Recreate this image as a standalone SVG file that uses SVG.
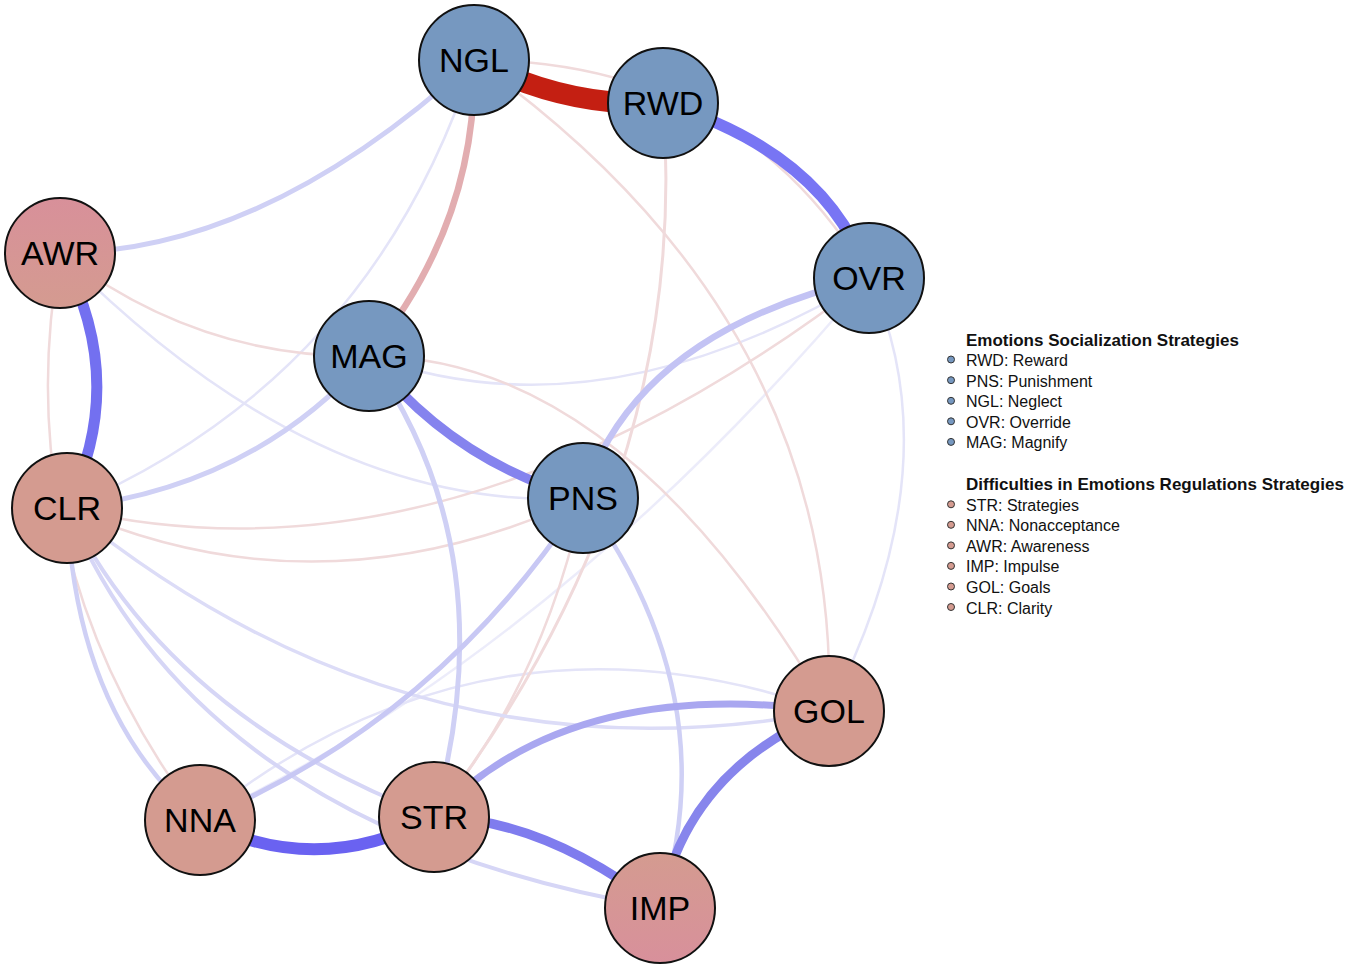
<svg xmlns="http://www.w3.org/2000/svg" width="1350" height="967" viewBox="0 0 1350 967">
<defs>
<style>
.e{fill:none;stroke-linecap:butt}
.fp{stroke:#f0dadb;stroke-width:2.5}
.fb{stroke:#e4e4f8;stroke-width:2.5}
.lb{stroke:#cfd0f5}
.n circle{stroke:#111;stroke-width:2}
.bl{fill:#7698c0}
.pk{fill:#d49b90}
.n text{font-family:"Liberation Sans",Arial,sans-serif;font-size:34px;fill:#000;text-anchor:middle}
.lg{font-family:"Liberation Sans",Arial,sans-serif;font-size:16px;fill:#111}
.lt{font-family:"Liberation Sans",Arial,sans-serif;font-size:17px;font-weight:bold;fill:#111}
.db{fill:#7698c0;stroke:#333;stroke-width:1}
.dp{fill:#d49b90;stroke:#333;stroke-width:1}
</style>
<linearGradient id="gAWR" x1="0" y1="0" x2="0" y2="1"><stop offset="0" stop-color="#d8909a"/><stop offset="1" stop-color="#d49b90"/></linearGradient>
<linearGradient id="gIMP" x1="0" y1="0" x2="0" y2="1"><stop offset="0" stop-color="#d49b90"/><stop offset="1" stop-color="#d8909b"/></linearGradient>
</defs>
<rect width="1350" height="967" fill="#fff"/>
<g id="edges">
<path class="e fb" d="M869,278 Q955,465 829,711"/>
<path class="e fb" d="M869,278 Q555,651 200,820" stroke-opacity="0.7"/>
<path class="e fb" d="M200,820 Q485,590 829,711"/>
<path class="e fb" d="M369,356 Q600,440 869,278"/>
<path class="e fb" d="M60,253 Q318,514 583,498"/>
<path class="e fb" d="M67,508 Q370,380 474,60"/>
<path class="e fp" d="M474,60 Q740,60 869,278"/>
<path class="e fp" d="M474,60 Q840,320 829,711"/>
<path class="e fp" d="M369,356 Q621,356 829,711"/>
<path class="e fp" d="M60,253 Q200,360 369,356"/>
<path class="e fp" d="M67,508 Q450,600 869,278"/>
<path class="e fp" d="M67,508 Q320,620 583,498"/>
<path class="e fp" d="M60,253 Q5,560 200,820"/>
<path class="e fp" d="M663,103 Q692,480 434,817" style="stroke-width:3"/>
<path class="e fp" d="M583,498 Q545,680 434,817"/>
<path class="e fb" d="M67,508 Q412,790 829,711" style="stroke:#dcdcf7;stroke-width:3.5"/>
<path class="e lb" d="M67,508 Q76,716 200,820" style="stroke-width:4.5"/>
<path class="e lb" d="M67,508 Q170,717 434,817" style="stroke-width:4;stroke:#d6d6f6"/>
<path class="e lb" d="M67,508 Q200,830 660,908" style="stroke-width:4;stroke:#d6d6f6"/>
<path class="e lb" d="M583,498 Q728,697 660,908" style="stroke-width:4.5"/>
<path class="e lb" d="M369,356 Q508,553 434,817" style="stroke-width:5"/>
<path class="e lb" d="M474,60 Q263,253 60,253" style="stroke-width:5"/>
<path class="e lb" d="M369,356 Q252,488 67,508" style="stroke-width:5"/>
<path class="e lb" d="M583,498 Q438,721 200,820" style="stroke-width:5;stroke:#c8c8f4"/>
<path class="e" d="M869,278 Q634,332 583,498" style="stroke:#c3c3f4;stroke-width:6.5"/>
<path class="e" d="M474,60 Q478,222 369,356" style="stroke:#e2adb0;stroke-width:6.5"/>
<path class="e" d="M434,817 Q568,676 829,711" style="stroke:#a9a7f0;stroke-width:7"/>
<path class="e" d="M829,711 Q686,770 660,908" style="stroke:#8785ec;stroke-width:9"/>
<path class="e" d="M434,817 Q543,818 660,908" style="stroke:#7f7cee;stroke-width:9.5"/>
<path class="e" d="M369,356 Q454,463 583,498" style="stroke:#8583ee;stroke-width:9.5"/>
<path class="e" d="M200,820 Q317,880 434,817" style="stroke:#6a62f1;stroke-width:12"/>
<path class="e" d="M60,253 Q130,380 67,508" style="stroke:#7370f0;stroke-width:11"/>
<path class="e" d="M663,103 Q828,154 869,278" style="stroke:#7875f4;stroke-width:11.5"/>
<path class="e" d="M474,60 Q565,108 663,103" style="stroke:#c41f12;stroke-width:21"/>
</g>
<g id="NGL" class="n"><circle class="bl" cx="474" cy="60" r="55"/><text x="474" y="72">NGL</text></g>
<g id="RWD" class="n"><circle class="bl" cx="663" cy="103" r="55"/><text x="663" y="115">RWD</text></g>
<g id="OVR" class="n"><circle class="bl" cx="869" cy="278" r="55"/><text x="869" y="290">OVR</text></g>
<g id="MAG" class="n"><circle class="bl" cx="369" cy="356" r="55"/><text x="369" y="368">MAG</text></g>
<g id="PNS" class="n"><circle class="bl" cx="583" cy="498" r="55"/><text x="583" y="510">PNS</text></g>
<g id="AWR" class="n"><circle fill="url(#gAWR)" cx="60" cy="253" r="55"/><text x="60" y="265">AWR</text></g>
<g id="CLR" class="n"><circle class="pk" cx="67" cy="508" r="55"/><text x="67" y="520">CLR</text></g>
<g id="GOL" class="n"><circle class="pk" cx="829" cy="711" r="55"/><text x="829" y="723">GOL</text></g>
<g id="NNA" class="n"><circle class="pk" cx="200" cy="820" r="55"/><text x="200" y="832">NNA</text></g>
<g id="STR" class="n"><circle class="pk" cx="434" cy="817" r="55"/><text x="434" y="829">STR</text></g>
<g id="IMP" class="n"><circle fill="url(#gIMP)" cx="660" cy="908" r="55"/><text x="660" y="920">IMP</text></g>
<g id="legend">
<text class="lt" x="966" y="346">Emotions Socialization Strategies</text>
<circle class="db" cx="951" cy="359.5" r="3.5"/><text class="lg" x="966" y="366">RWD: Reward</text>
<circle class="db" cx="951" cy="380.2" r="3.5"/><text class="lg" x="966" y="386.7">PNS: Punishment</text>
<circle class="db" cx="951" cy="400.8" r="3.5"/><text class="lg" x="966" y="407.3">NGL: Neglect</text>
<circle class="db" cx="951" cy="421.3" r="3.5"/><text class="lg" x="966" y="427.8">OVR: Override</text>
<circle class="db" cx="951" cy="441.9" r="3.5"/><text class="lg" x="966" y="448.4">MAG: Magnify</text>
<text class="lt" x="966" y="490">Difficulties in Emotions Regulations Strategies</text>
<circle class="dp" cx="951" cy="504.3" r="3.5"/><text class="lg" x="966" y="510.8">STR: Strategies</text>
<circle class="dp" cx="951" cy="524.8" r="3.5"/><text class="lg" x="966" y="531.3">NNA: Nonacceptance</text>
<circle class="dp" cx="951" cy="545.4" r="3.5"/><text class="lg" x="966" y="551.9">AWR: Awareness</text>
<circle class="dp" cx="951" cy="565.9" r="3.5"/><text class="lg" x="966" y="572.4">IMP: Impulse</text>
<circle class="dp" cx="951" cy="586.5" r="3.5"/><text class="lg" x="966" y="593">GOL: Goals</text>
<circle class="dp" cx="951" cy="607" r="3.5"/><text class="lg" x="966" y="613.5">CLR: Clarity</text>
</g>
</svg>
